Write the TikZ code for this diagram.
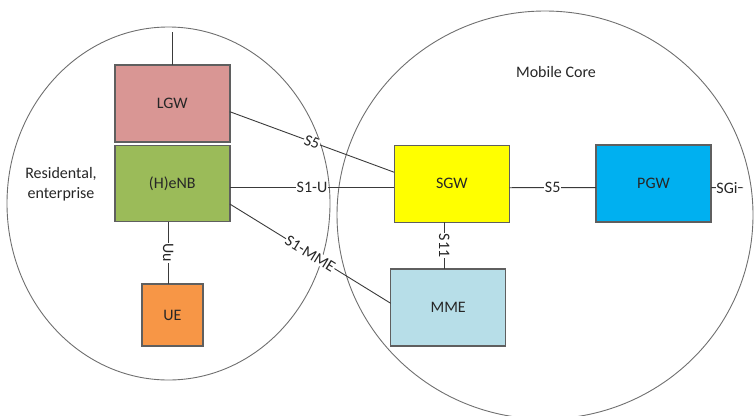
\documentclass[tikz,border=0pt]{standalone}
\usepackage{fontspec}
\setmainfont{Carlito}
\definecolor{lgwfill}{HTML}{D99694}
\definecolor{enbfill}{HTML}{9BBB59}
\definecolor{uefill}{HTML}{F79646}
\definecolor{sgwfill}{HTML}{FFFF00}
\definecolor{pgwfill}{HTML}{00B0F0}
\definecolor{mmefill}{HTML}{B7DEE8}
\definecolor{boxline}{HTML}{5F5F5F}
\definecolor{wire}{HTML}{3A3A3A}
\definecolor{ink}{HTML}{262626}
\begin{document}
\begin{tikzpicture}[x=1pt,y=-1pt,
  txt/.style={font=\fontsize{16}{19.5}\selectfont, text=ink},
  netbox/.style={txt, draw=boxline, line width=1.4pt, inner sep=0pt, outer sep=0pt,
    minimum width=115pt, minimum height=77pt},
  zoneline/.style={draw=boxline!90, line width=0.9pt},
  link/.style={draw=wire, line width=0.9pt},
  tag/.style={txt, fill=white, inner sep=0.6pt}]
\useasboundingbox (0,0) rectangle (754,415);

% the two domains
\draw[zoneline] (168.5,203.5) ellipse [x radius=161.5, y radius=176.5];
\draw[zoneline] (545,215) ellipse [x radius=208, y radius=204];

\node[txt, align=center] (res) at (61,184) {Residental,\\enterprise};
\node[txt] (core) at (556,72) {Mobile Core};

% network elements
\node[netbox, fill=lgwfill] (lgw) at (172.3,103.4) {LGW};
\node[netbox, fill=enbfill, minimum height=76pt] (henb) at (172.3,183.7) {(H)eNB};
\node[netbox, fill=uefill, minimum width=61pt, minimum height=62pt] (ue) at (172.3,315) {UE};
\node[netbox, fill=sgwfill] (sgw) at (451.8,183.7) {SGW};
\node[netbox, fill=pgwfill] (pgw) at (653.5,183.6) {PGW};
\node[netbox, fill=mmefill] (mme) at (448.2,307.4) {MME};

\coordinate (lgwup) at (172.3,32);
\coordinate (sgiend) at (743,187.7);

% interfaces
\draw[link] (lgwup) -- (lgw.north);
\draw[link] ([yshift=-8.3pt]lgw.east) -- node[tag, sloped] {S5} ([yshift=11.4pt]sgw.west);
\draw[link] ([yshift=-4pt]henb.east) -- node[tag] {S1-U} ([yshift=-4pt]sgw.west);
\draw[link] ([yshift=-20.3pt]henb.east) -- node[tag, sloped] {S1-MME} ([yshift=4.1pt]mme.west);
\draw[link] ([xshift=-4pt]henb.south) -- node[tag, rotate=-90] {Uu} ([xshift=-4pt]ue.north);
\draw[link] ([xshift=-7.5pt]sgw.south) -- node[tag, rotate=-90] {S11} ([xshift=-3.9pt]mme.north);
\draw[link] ([yshift=-4pt]sgw.east) -- node[tag] {S5} ([yshift=-4pt]pgw.west);
\draw[link] ([yshift=-4pt]pgw.east) -- node[tag] {SGi} (sgiend);
\end{tikzpicture}
\end{document}
